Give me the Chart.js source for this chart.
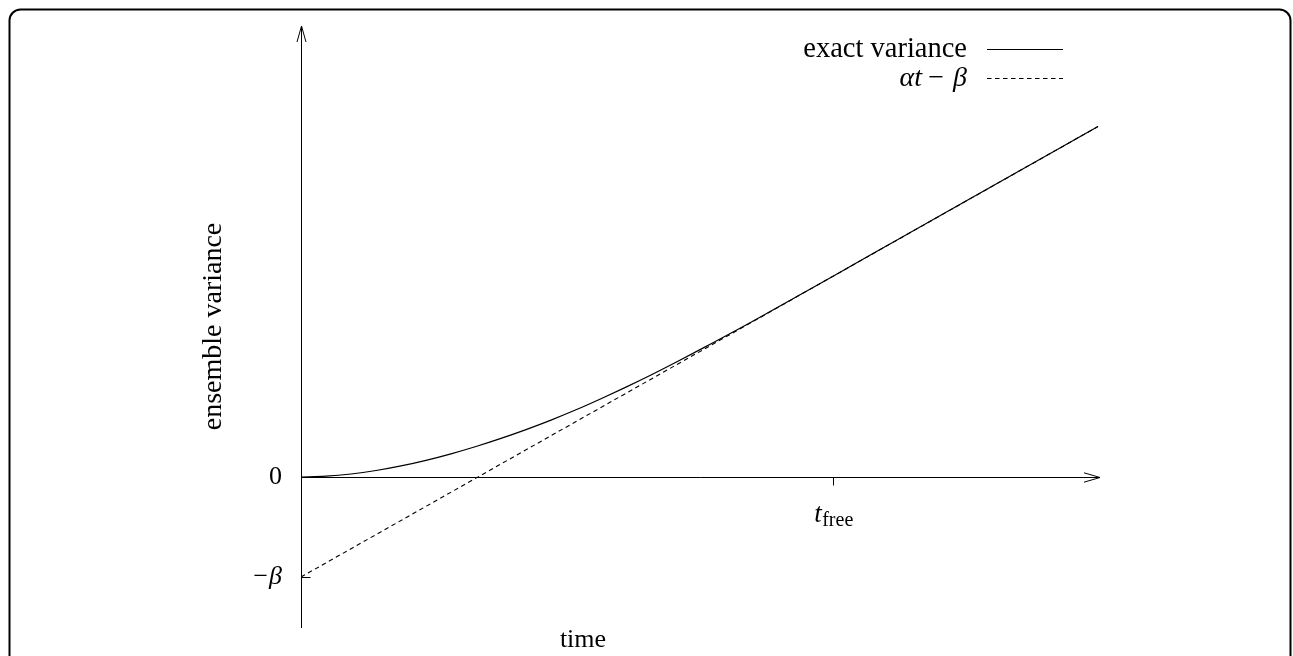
<!DOCTYPE html>
<html><head><meta charset="utf-8">
<script src="https://cdn.jsdelivr.net/npm/chart.js@4/dist/chart.umd.min.js"></script>
<style>html,body{margin:0;padding:0;background:#fff;}#wrap{width:1293px;height:656px;}</style>
</head><body><div id="wrap"><canvas id="c" width="1293" height="656"></canvas></div>
<script>
// ---- data (x in time units, y in units of beta) ----
const timeValues      = [0, 0.25, 0.5, 0.75, 1.0, 1.25, 1.5, 1.75, 2.0, 2.25, 2.5, 2.75, 3.0, 3.25, 3.5, 3.75, 4.0, 4.5, 5.0, 5.5, 6.0, 7.0, 7.97];
const exactVariance   = [0, 0.008, 0.030, 0.065, 0.111, 0.167, 0.232, 0.305, 0.386, 0.474, 0.569, 0.672, 0.783, 0.899, 1.020, 1.147, 1.279, 1.548, 1.828, 2.110, 2.392, 2.957, 3.505];
const asymptoteTime   = [0, 7.97];
const asymptoteValues = [-1, 3.505];
const seriesLabels    = ['exact variance', 'αt − β'];
const yTickValues     = [-1, 0];
const yTickLabels     = ['−β', '0'];
const xTickValues     = [5.32];
const xTickLabels     = [['t', 'free']];
const xAxisTitle      = 'time';
const yAxisTitle      = 'ensemble variance';

const SERIF = '"Liberation Serif", "Times New Roman", serif';
const DASH = [4.5, 3.5];

const decor = {
  id: 'decor',
  beforeDraw(chart) {
    const ctx = chart.ctx;
    ctx.save();
    ctx.fillStyle = '#fff';
    ctx.fillRect(0, 0, chart.width, chart.height);
    ctx.strokeStyle = '#000';
    ctx.lineWidth = 2;
    const l = 9.5, t = 9.5, r = 1290.5, b = 720, rad = 11;
    ctx.beginPath();
    ctx.moveTo(l, b);
    ctx.lineTo(l, t + rad);
    ctx.arcTo(l, t, l + rad, t, rad);
    ctx.lineTo(r - rad, t);
    ctx.arcTo(r, t, r, t + rad, rad);
    ctx.lineTo(r, b);
    ctx.stroke();
    ctx.restore();
  },
  afterDraw(chart) {
    const ctx = chart.ctx;
    const xs = chart.scales.x, ys = chart.scales.y;
    const ca = chart.chartArea;
    const x0 = Math.round(xs.getPixelForValue(0)) + 0.5;
    const y0 = Math.round(ys.getPixelForValue(0)) + 0.5;
    const xEnd = xs.getPixelForValue(xs.max);
    ctx.save();
    ctx.strokeStyle = '#000';
    ctx.lineWidth = 1;
    ctx.beginPath();
    ctx.moveTo(x0, y0); ctx.lineTo(xEnd, y0);
    ctx.stroke();
    ctx.beginPath();
    ctx.moveTo(xEnd - 16, y0 - 4.7); ctx.lineTo(xEnd, y0); ctx.lineTo(xEnd - 16, y0 + 4.7);
    ctx.moveTo(x0 - 4.5, ca.top + 16); ctx.lineTo(x0, ca.top); ctx.lineTo(x0 + 4.5, ca.top + 16);
    ctx.stroke();
    yTickValues.forEach(v => {
      if (v === 0) return;
      const py = Math.round(ys.getPixelForValue(v)) + 0.5;
      ctx.beginPath(); ctx.moveTo(x0, py); ctx.lineTo(x0 + 9, py); ctx.stroke();
    });
    ctx.fillStyle = '#000';
    ctx.textBaseline = 'alphabetic';
    xTickValues.forEach((v, i) => {
      const px = Math.round(xs.getPixelForValue(v)) + 0.5;
      ctx.beginPath(); ctx.moveTo(px, y0); ctx.lineTo(px, y0 + 8); ctx.stroke();
      const [main, sub] = xTickLabels[i];
      const fMain = 'italic 27px ' + SERIF, fSub = '20px ' + SERIF;
      ctx.font = fMain; const w1 = ctx.measureText(main).width;
      ctx.font = fSub;  const w2 = ctx.measureText(sub).width;
      const left = px - (w1 + w2) / 2;
      ctx.textAlign = 'left';
      ctx.font = fMain; ctx.fillText(main, left, y0 + 44);
      ctx.font = fSub;  ctx.fillText(sub, left + w1 + 0.5, y0 + 48);
    });
    ctx.font = '26px ' + SERIF;
    ctx.textAlign = 'center';
    ctx.fillText(xAxisTitle, 583, 647);
    // legend
    const rows = [49.5, 78.5];
    chart.data.datasets.forEach((ds, i) => {
      const yb = rows[i];
      ctx.textAlign = 'right';
      if (i === 0) {
        ctx.font = '28.5px ' + SERIF;
        ctx.fillText(ds.label, 967, yb + 7);
      } else {
        ctx.font = 'italic 28px ' + SERIF;
        ctx.fillText('β', 967, yb + 7);
        ctx.font = '28px ' + SERIF;
        ctx.fillText('−', 944, yb + 7);
        ctx.font = 'italic 28px ' + SERIF;
        ctx.fillText('αt', 922, yb + 7);
      }
      ctx.lineWidth = 1.2;
      ctx.setLineDash(ds.borderDash || []);
      ctx.beginPath(); ctx.moveTo(987, yb); ctx.lineTo(1063, yb); ctx.stroke();
      ctx.setLineDash([]);
    });
    ctx.restore();
  }
};

new Chart(document.getElementById('c'), {
  type: 'line',
  data: {
    datasets: [
      {
        label: seriesLabels[0],
        data: timeValues.map((t, i) => ({x: t, y: exactVariance[i]})),
        borderColor: '#000', borderWidth: 1.2, pointRadius: 0,
        cubicInterpolationMode: 'monotone', fill: false
      },
      {
        label: seriesLabels[1],
        data: asymptoteTime.map((t, i) => ({x: t, y: asymptoteValues[i]})),
        borderColor: '#000', borderWidth: 1.1, pointRadius: 0,
        borderDash: DASH, fill: false
      }
    ]
  },
  options: {
    responsive: false, animation: false, devicePixelRatio: 1,
    layout: { padding: { left: 0, top: 26, right: 193, bottom: 0 } },
    plugins: { legend: { display: false }, tooltip: { enabled: false } },
    scales: {
      x: {
        type: 'linear', min: 0, max: 7.99,
        grid: { display: false, drawTicks: false },
        border: { display: false },
        ticks: { display: false },
        afterFit: s => { s.height = 29; s.paddingLeft = 0; s.paddingRight = 0; }
      },
      y: {
        type: 'linear', min: -1.5, max: 4.51,
        afterBuildTicks: s => { s.ticks = yTickValues.map(v => ({ value: v })); },
        grid: { display: false, drawTicks: false },
        border: { display: true, color: '#000', width: 1 },
        ticks: {
          padding: 19, color: '#000', autoSkip: false,
          callback: v => yTickLabels[yTickValues.indexOf(v)],
          font: c => (c.tick && c.tick.value === -1)
            ? { family: SERIF, size: 26, style: 'italic' }
            : { family: SERIF, size: 26 }
        },
        title: {
          display: true, text: yAxisTitle, color: '#000',
          font: { family: SERIF, size: 28 },
          padding: { top: 197, bottom: 0 }
        },
        afterFit: s => { s.width = 301; s.paddingTop = 0; s.paddingBottom = 0; }
      }
    }
  },
  plugins: [decor]
});
</script></body></html>
